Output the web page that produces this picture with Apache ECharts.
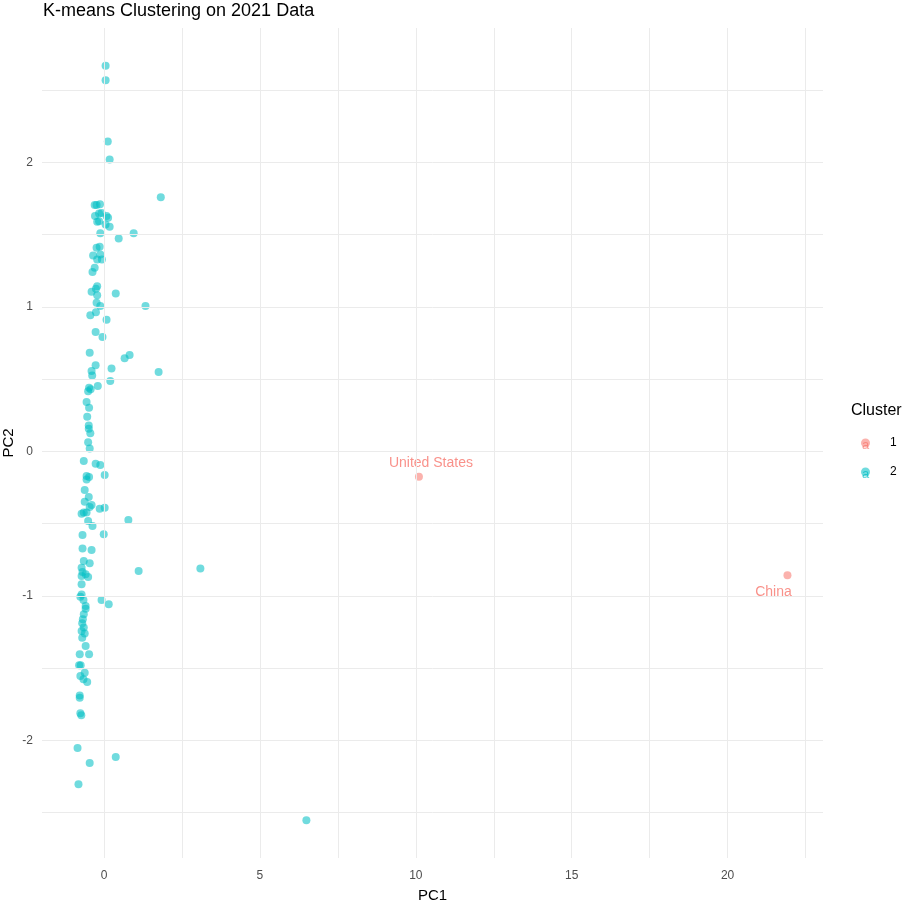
<!DOCTYPE html>
<html>
<head>
<meta charset="utf-8">
<script src="https://cdn.jsdelivr.net/npm/echarts@6/dist/echarts.min.js"></script>
<style>
  html, body { margin: 0; padding: 0; background: #fff; }
  #main { width: 909px; height: 901px; }
</style>
</head>
<body>
<div id="main"></div>
<script>
// cluster 1: the two outliers
var c1Names = ["United States", "China"]
var c1X = [10.10, 21.92]
var c1Y = [-0.175, -0.858]

// cluster 2: everybody else
var c2X = [0.05, 0.05, 0.12, 0.18, 1.82, -0.24, -0.30, -0.13, -0.16, -0.08,
  -0.29, 0.08, 0.13, -0.16, -0.22, 0.05, 0.18, -0.12, 0.47, 0.95,
  -0.24, -0.14, -0.35, -0.12, -0.22, -0.07, -0.30, -0.37, -0.22, -0.40,
  -0.26, -0.22, 0.375, -0.24, -0.12, 1.33, -0.44, -0.26, 0.08, -0.27,
  -0.05, -0.46, 0.66, 0.82, -0.27, 0.24, -0.40, -0.38, 1.75, 0.20,
  -0.20, -0.48, -0.43, -0.51, -0.56, -0.48, -0.54, -0.49, -0.49, -0.44,
  -0.51, -0.46, -0.65, -0.27, -0.12, 0.02, -0.56, -0.48, -0.56, -0.62,
  -0.49, -0.62, -0.40, -0.46, -0.14, 0.02, -0.72, -0.56, -0.65, 0.78,
  -0.51, -0.37, -0.69, -0.01, -0.69, -0.40, -0.65, -0.46, 1.11, -0.72,
  -0.69, -0.59, -0.72, -0.51, -0.72, -0.72, -0.76, -0.66, -0.08, 0.15,
  -0.59, -0.59, -0.65, -0.68, -0.70, -0.65, -0.72, -0.62, -0.70, -0.59,
  -0.78, -0.48, -0.80, -0.75, -0.62, -0.76, -0.66, -0.54, -0.78, -0.78,
  -0.76, -0.73, -0.85, 0.375, -0.46, -0.82, 3.09, 6.49]
var c2Y = [2.67, 2.57, 2.145, 2.02, 1.76, 1.705, 1.705, 1.71, 1.647, 1.65,
  1.63, 1.63, 1.617, 1.594, 1.59, 1.571, 1.555, 1.51, 1.474, 1.51,
  1.41, 1.417, 1.356, 1.363, 1.329, 1.329, 1.271, 1.241, 1.144, 1.105,
  1.125, 1.08, 1.093, 1.029, 1.006, 1.006, 0.943, 0.964, 0.912, 0.826,
  0.791, 0.683, 0.644, 0.667, 0.597, 0.574, 0.556, 0.526, 0.549, 0.487,
  0.452, 0.44, 0.43, 0.417, 0.341, 0.302, 0.24, 0.18, 0.157, 0.125,
  0.064, 0.02, -0.067, -0.085, -0.095, -0.164, -0.171, -0.178, -0.194, -0.268,
  -0.316, -0.348, -0.372, -0.385, -0.397, -0.39, -0.431, -0.424, -0.424, -0.475,
  -0.482, -0.517, -0.579, -0.574, -0.673, -0.683, -0.759, -0.775, -0.828, -0.805,
  -0.835, -0.851, -0.863, -0.87, -0.92, -0.99, -1.006, -1.029, -1.029, -1.059,
  -1.07, -1.089, -1.128, -1.163, -1.19, -1.22, -1.244, -1.26, -1.29, -1.347,
  -1.405, -1.405, -1.481, -1.481, -1.532, -1.555, -1.578, -1.597, -1.69, -1.705,
  -1.813, -1.827, -2.053, -2.116, -2.157, -2.305, -0.81, -2.554]

// grid lines (major + minor, ggplot style)
var xGrid = [0, 2.5, 5, 7.5, 10, 12.5, 15, 17.5, 20, 22.5]
var yGrid = [-2.5, -2, -1.5, -1, -0.5, 0, 0.5, 1, 1.5, 2, 2.5]

var red = '#F8766D'
var cyan = '#00BFC4'
var redA = 'rgba(248,118,109,0.7)'
var cyanA = 'rgba(0,191,196,0.7)'
var font = 'Liberation Sans, Arial, sans-serif'

let chart = echarts.init(document.getElementById('main'))

var c1Data = []
for (var i = 0; i < c1X.length; i++) {
    c1Data.push({ value: [c1X[i], c1Y[i]], name: c1Names[i] })
}
var c2Data = []
for (var i = 0; i < c2X.length; i++) {
    c2Data.push([c2X[i], c2Y[i]])
}

var gridLines = []
for (var i = 0; i < xGrid.length; i++) gridLines.push({ xAxis: xGrid[i] })
for (var i = 0; i < yGrid.length; i++) gridLines.push({ yAxis: yGrid[i] })

let option = {
    backgroundColor: '#fff',
    animation: false,
    title: {
        text: 'K-means Clustering on 2021 Data',
        left: 38,
        top: -3,
        textStyle: { fontFamily: font, fontSize: 18, fontWeight: 'normal', color: '#000' }
    },
    grid: { left: 42, right: 86, top: 28, bottom: 43, outerBoundsMode: 'none', containLabel: false },
    legend: {
        orient: 'vertical',
        left: 856,
        top: 432,
        itemWidth: 9,
        itemHeight: 9,
        itemGap: 17,
        icon: 'circle',
        data: ['1', '2'],
        textStyle: { fontFamily: font, fontSize: 12, color: '#000', padding: [0, 0, 0, 15] }
    },
    xAxis: {
        type: 'value',
        min: -1.99,
        max: 23.06,
        splitNumber: 5,
        name: 'PC1',
        nameLocation: 'middle',
        nameGap: 30,
        nameMoveOverlap: false,
        nameTextStyle: { fontFamily: font, fontSize: 15, color: '#000' },
        axisLine: { show: false },
        axisTick: { show: false },
        splitLine: { show: false },
        axisLabel: {
            margin: 12,
            fontFamily: font, fontSize: 12, color: '#4D4D4D',
            formatter: function (v) {
                return (Math.abs(v - Math.round(v)) < 1e-9 && Math.round(v) % 5 === 0) ? String(Math.round(v)) : ''
            }
        }
    },
    yAxis: {
        type: 'value',
        min: -2.815,
        max: 2.931,
        splitNumber: 5,
        name: 'PC2',
        nameLocation: 'middle',
        nameGap: 26,
        nameRotate: 90,
        nameMoveOverlap: false,
        nameTextStyle: { fontFamily: font, fontSize: 15, color: '#000' },
        axisLine: { show: false },
        axisTick: { show: false },
        splitLine: { show: false },
        axisLabel: {
            margin: 9,
            fontFamily: font, fontSize: 12, color: '#4D4D4D',
            formatter: function (v) {
                return Math.abs(v - Math.round(v)) < 1e-9 ? String(Math.round(v)) : ''
            }
        }
    },
    graphic: [
        { type: 'text', left: 851, top: 403, style: { text: 'Cluster', font: '16px Liberation Sans', fill: '#000' } },
        { type: 'text', left: 862, top: 439, z: 0, style: { text: 'a', font: '13px Liberation Sans', fill: redA } },
        { type: 'text', left: 862, top: 468, z: 0, style: { text: 'a', font: '13px Liberation Sans', fill: cyanA } }
    ],
    series: [
        {
            name: 'grid',
            type: 'scatter',
            data: [],
            z: 0,
            silent: true,
            markLine: {
                silent: true,
                symbol: ['none', 'none'],
                label: { show: false },
                lineStyle: { type: 'solid', color: '#EBEBEB', width: 1 },
                emphasis: { disabled: true },
                data: gridLines
            }
        },
        {
            name: '1',
            type: 'scatter',
            symbolSize: 8,
            z: 3,
            itemStyle: { color: redA },
            emphasis: { disabled: true },
            label: {
                show: true,
                formatter: '{b}',
                position: 'inside',
                fontFamily: font,
                fontSize: 14,
                color: red
            },
            labelLayout: function (p) {
                return p.dataIndex === 0 ? { dx: 12, dy: -14 } : { dx: -14, dy: 17 }
            },
            data: c1Data
        },
        {
            name: '2',
            type: 'scatter',
            symbolSize: 8,
            z: 2,
            itemStyle: { color: cyanA },
            emphasis: { disabled: true },
            data: c2Data
        }
    ]
}

chart.setOption(option)
</script>
</body>
</html>
